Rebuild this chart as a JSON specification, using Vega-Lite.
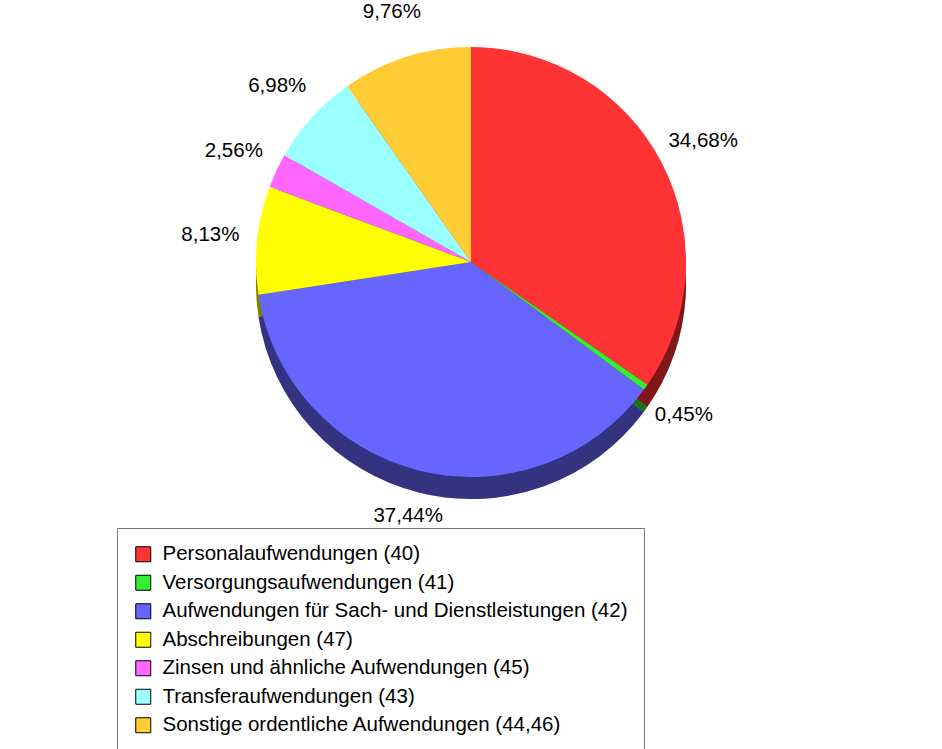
{
  "$schema": "https://vega.github.io/schema/vega-lite/v6.json",
  "width": 942,
  "height": 524,
  "padding": 0,
  "background": "white",
  "config": {"view": {"stroke": null}, "font": "Liberation Sans"},
  "data": {
    "values": [
      {"Nr": 1, "Kategorie": "Personalaufwendungen (40)", "Anteil": 34.68, "Text": "34,68%"},
      {"Nr": 2, "Kategorie": "Versorgungsaufwendungen (41)", "Anteil": 0.45, "Text": "0,45%"},
      {"Nr": 3, "Kategorie": "Aufwendungen für Sach- und Dienstleistungen (42)", "Anteil": 37.44, "Text": "37,44%"},
      {"Nr": 4, "Kategorie": "Abschreibungen (47)", "Anteil": 8.13, "Text": "8,13%"},
      {"Nr": 5, "Kategorie": "Zinsen und ähnliche Aufwendungen (45)", "Anteil": 2.56, "Text": "2,56%"},
      {"Nr": 6, "Kategorie": "Transferaufwendungen (43)", "Anteil": 6.98, "Text": "6,98%"},
      {"Nr": 7, "Kategorie": "Sonstige ordentliche Aufwendungen (44,46)", "Anteil": 9.76, "Text": "9,76%"}
    ]
  },
  "encoding": {
    "theta": {"field": "Anteil", "type": "quantitative", "stack": true},
    "order": {"field": "Nr", "type": "quantitative"}
  },
  "layer": [
    {
      "mark": {"type": "arc", "outerRadius": 215, "yOffset": 22},
      "encoding": {
        "color": {
          "field": "Kategorie", "type": "nominal",
          "scale": {
            "domain": ["Personalaufwendungen (40)", "Versorgungsaufwendungen (41)", "Aufwendungen für Sach- und Dienstleistungen (42)", "Abschreibungen (47)", "Zinsen und ähnliche Aufwendungen (45)", "Transferaufwendungen (43)", "Sonstige ordentliche Aufwendungen (44,46)"],
            "range": ["#FF3333", "#33EE33", "#6666FF", "#FFFF00", "#FF66FF", "#99FFFF", "#FFCC33"]
          },
          "legend": {
            "orient": "none", "legendX": 117, "legendY": 528,
            "title": null, "direction": "vertical",
            "strokeColor": "#777777", "fillColor": "white",
            "padding": 16, "labelFontSize": 20.5, "labelColor": "#000000",
            "labelLimit": 700, "symbolType": "square", "symbolSize": 225,
            "symbolStrokeColor": "#000000", "symbolStrokeWidth": 1,
            "symbolOpacity": 1, "rowPadding": 7.5, "labelOffset": 9,
            "offset": 0
          }
        }
      }
    },
    {
      "mark": {"type": "arc", "outerRadius": 215, "yOffset": 22, "color": "#000000", "opacity": 0.5},
      "encoding": {}
    },
    {
      "mark": {"type": "arc", "outerRadius": 215},
      "encoding": {
        "color": {"field": "Kategorie", "type": "nominal"}
      }
    },
    {
      "mark": {"type": "text", "radius": 262, "fontSize": 20.5, "color": "#000000"},
      "encoding": {"text": {"field": "Text", "type": "nominal"}}
    }
  ]
}
